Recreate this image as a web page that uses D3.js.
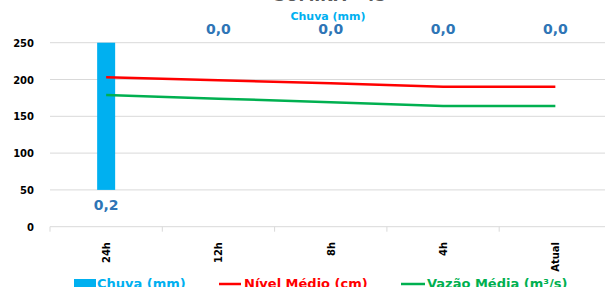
<!DOCTYPE html>
<html>
<head>
<meta charset="utf-8">
<script src="https://cdn.jsdelivr.net/npm/d3@7"></script>
<style>
  body { margin: 0; background: #fff; }
  svg { display: block; font-family: "DejaVu Sans", sans-serif; }
</style>
</head>
<body>
<div id="chart"></div>
<script>
// categories and series
var categories = ["24h", "12h", "8h", "4h", "Atual"];
var chuva = [0.2, 0.0, 0.0, 0.0, 0.0];
var nivel = [203, 199, 195, 190, 190];
var vazao = [179, 174, 169, 164, 164];
var yTicks = [0, 50, 100, 150, 200, 250];

var width = 605, height = 287;
var margin = { top: 42.7, left: 50 };
var plotW = 561.5, plotH = 184;

var svg = d3.select("#chart").append("svg")
  .attr("width", width)
  .attr("height", height);

// band scale for the five time slots
var x = d3.scaleBand()
  .domain(categories)
  .range([margin.left, margin.left + plotW]);

// left axis for level / flow
var y = d3.scaleLinear()
  .domain([0, 250])
  .range([margin.top + plotH, margin.top]);

// hidden reversed axis for the rain bars
var y2 = d3.scaleLinear()
  .domain([0, 0.25])
  .range([margin.top, margin.top + plotH]);

// title (mostly cut off at the top)
svg.append("text")
  .attr("x", 330).attr("y", 1)
  .attr("text-anchor", "middle")
  .style("font-size", "16px")
  .style("font-weight", "bold")
  .style("fill", "#595959")
  .text("SUMINÃ - 45");

svg.append("text")
  .attr("x", 328).attr("y", 20)
  .attr("text-anchor", "middle")
  .style("font-size", "11px")
  .style("font-weight", "bold")
  .style("fill", "#00B0F0")
  .text("Chuva (mm)");

// gridlines
svg.append("g").selectAll("line")
  .data(yTicks)
  .enter()
  .append("line")
  .attr("x1", margin.left)
  .attr("x2", margin.left + plotW)
  .attr("y1", function(d){ return y(d) })
  .attr("y2", function(d){ return y(d) })
  .style("stroke", "#d9d9d9")
  .style("stroke-width", 1);

// y tick labels
svg.append("g").selectAll("text")
  .data(yTicks)
  .enter()
  .append("text")
  .attr("x", 34)
  .attr("y", function(d){ return y(d) + 4 })
  .attr("text-anchor", "end")
  .style("font-size", "10px")
  .style("font-weight", "bold")
  .style("fill", "#000")
  .text(function(d){ return d });

// category tick marks on the bottom axis
svg.append("g").selectAll("line")
  .data(categories)
  .enter()
  .append("line")
  .attr("x1", function(d){ return x(d) })
  .attr("x2", function(d){ return x(d) })
  .attr("y1", y(0))
  .attr("y2", y(0) + 5)
  .style("stroke", "#d9d9d9");

// rotated category labels
svg.append("g").selectAll("text")
  .data(categories)
  .enter()
  .append("text")
  .attr("transform", function(d){
    return "translate(" + (x(d) + x.bandwidth() / 2 + 4) + "," + 242 + ") rotate(-90)";
  })
  .attr("text-anchor", "end")
  .style("font-size", "10px")
  .style("font-weight", "bold")
  .style("fill", "#000")
  .text(function(d){ return d });

// rain bars (hang from the top)
var barW = 18;
svg.append("g").selectAll("rect")
  .data(chuva)
  .enter()
  .append("rect")
  .attr("x", function(d, i){ return x(categories[i]) + x.bandwidth() / 2 - barW / 2 })
  .attr("y", y2(0))
  .attr("width", barW)
  .attr("height", function(d){ return y2(d) - y2(0) })
  .style("fill", "#00B0F0");

// rain value labels
svg.append("g").selectAll("text")
  .data(chuva)
  .enter()
  .append("text")
  .attr("x", function(d, i){ return x(categories[i]) + x.bandwidth() / 2 })
  .attr("y", function(d){ return d > 0 ? y2(d) + 20 : y2(d) - 9 })
  .attr("text-anchor", "middle")
  .style("font-size", "14px")
  .style("font-weight", "bold")
  .style("fill", "#2E75B6")
  .text(function(d){ return d.toFixed(1).replace(".", ",") });

// lines
var line = d3.line()
  .x(function(d, i){ return x(categories[i]) + x.bandwidth() / 2 })
  .y(function(d){ return y(d) });

svg.append("path")
  .datum(nivel)
  .attr("d", line)
  .style("fill", "none")
  .style("stroke", "#FF0000")
  .style("stroke-width", 2.5);

svg.append("path")
  .datum(vazao)
  .attr("d", line)
  .style("fill", "none")
  .style("stroke", "#00B050")
  .style("stroke-width", 2.5);

// legend (cut off at the bottom)
var legY = 288;
svg.append("rect")
  .attr("x", 74).attr("y", legY - 9)
  .attr("width", 22).attr("height", 12)
  .style("fill", "#00B0F0");
svg.append("text")
  .attr("x", 97).attr("y", legY)
  .style("font-size", "13px").style("font-weight", "bold")
  .style("fill", "#00B0F0")
  .text("Chuva (mm)");

svg.append("line")
  .attr("x1", 219).attr("x2", 241)
  .attr("y1", legY - 4).attr("y2", legY - 4)
  .style("stroke", "#FF0000").style("stroke-width", 2.5);
svg.append("text")
  .attr("x", 244).attr("y", legY)
  .style("font-size", "13px").style("font-weight", "bold")
  .style("fill", "#FF0000")
  .text("Nível Médio (cm)");

svg.append("line")
  .attr("x1", 401).attr("x2", 425)
  .attr("y1", legY - 4).attr("y2", legY - 4)
  .style("stroke", "#00B050").style("stroke-width", 2.5);
svg.append("text")
  .attr("x", 427).attr("y", legY)
  .style("font-size", "13px").style("font-weight", "bold")
  .style("fill", "#00B050")
  .text("Vazão Média (m³/s)");
</script>
</body>
</html>
